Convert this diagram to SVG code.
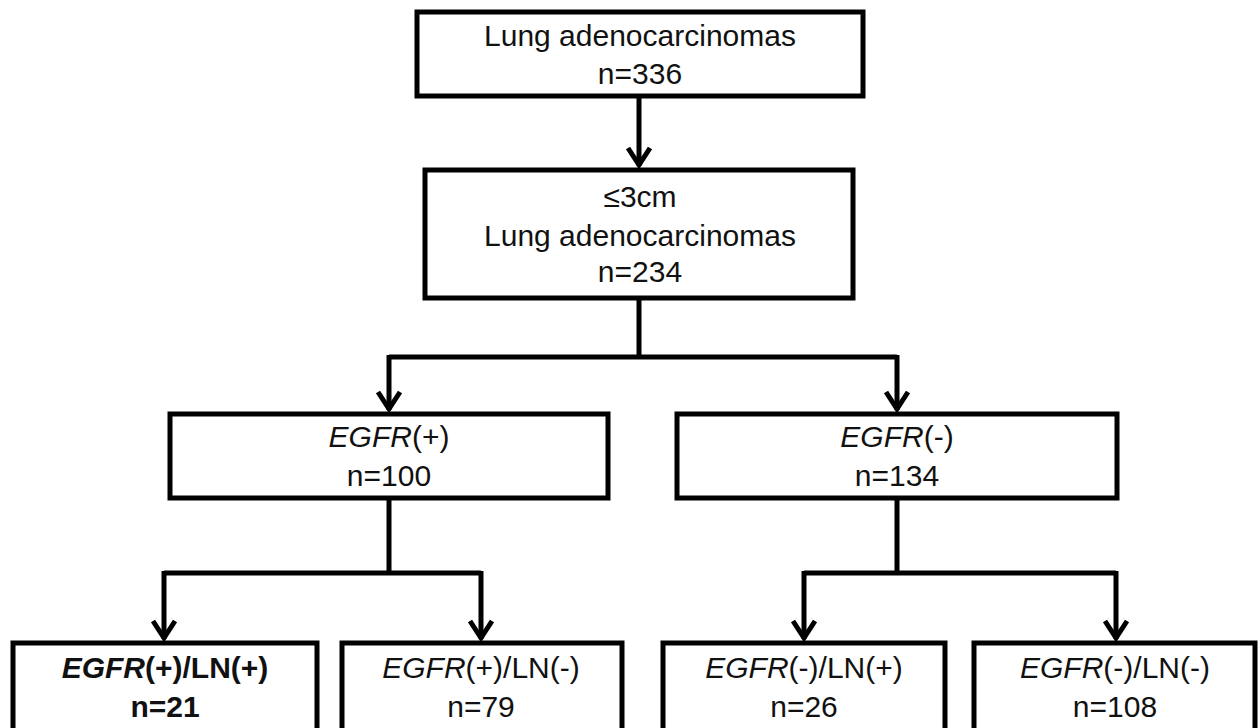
<svg xmlns="http://www.w3.org/2000/svg" width="1260" height="728" viewBox="0 0 1260 728">
<style>
.box{fill:#fff;stroke:#000;stroke-width:5}
.t{font-family:"Liberation Sans",Arial,sans-serif;font-size:30px;fill:#111;text-anchor:middle}
.b{font-weight:bold}
.i{font-style:italic}
.c{fill:none;stroke:#000;stroke-width:5}
</style>
<defs>
<marker id="ah" markerUnits="userSpaceOnUse" markerWidth="40" markerHeight="40" refX="0" refY="0" orient="auto" viewBox="-25 -20 30 40" overflow="visible">
<path d="M-18,-11 L-1,0 L-18,11" fill="none" stroke="#000" stroke-width="5" stroke-linejoin="miter"/>
</marker>
</defs>
<rect width="1260" height="728" fill="#fff"/>
<g id="connectors">
<path class="c" d="M639,98 V166" marker-end="url(#ah)"/>
<path class="c" d="M639,300 V357"/>
<path class="c" d="M389,357 H897"/>
<path class="c" d="M389,355 V410" marker-end="url(#ah)"/>
<path class="c" d="M897,355 V410" marker-end="url(#ah)"/>
<path class="c" d="M389,500 V573"/>
<path class="c" d="M164,573 H481"/>
<path class="c" d="M164,571 V639" marker-end="url(#ah)"/>
<path class="c" d="M481,571 V639" marker-end="url(#ah)"/>
<path class="c" d="M897,500 V573"/>
<path class="c" d="M804,573 H1116"/>
<path class="c" d="M804,571 V639" marker-end="url(#ah)"/>
<path class="c" d="M1116,571 V639" marker-end="url(#ah)"/>
</g>
<g id="n1">
<rect class="box" x="417" y="12" width="446" height="84"/>
<text class="t" x="640" y="46">Lung adenocarcinomas</text>
<text class="t" x="640" y="84">n=336</text>
</g>
<g id="n2">
<rect class="box" x="425" y="170" width="428" height="128"/>
<text class="t" x="640" y="207">≤3cm</text>
<text class="t" x="640" y="246">Lung adenocarcinomas</text>
<text class="t" x="640" y="282">n=234</text>
</g>
<g id="n3">
<rect class="box" x="170" y="414" width="438" height="84"/>
<text class="t" x="389" y="447"><tspan class="i">EGFR</tspan>(+)</text>
<text class="t" x="389" y="486">n=100</text>
</g>
<g id="n4">
<rect class="box" x="677" y="414" width="440" height="84"/>
<text class="t" x="897" y="447"><tspan class="i">EGFR</tspan>(-)</text>
<text class="t" x="897" y="486">n=134</text>
</g>
<g id="n5">
<rect class="box" x="13" y="643" width="304" height="110"/>
<text class="t b" x="165" y="678"><tspan class="i">EGFR</tspan>(+)/LN(+)</text>
<text class="t b" x="165" y="717">n=21</text>
</g>
<g id="n6">
<rect class="box" x="342" y="643" width="280" height="110"/>
<text class="t" x="481" y="678"><tspan class="i">EGFR</tspan>(+)/LN(-)</text>
<text class="t" x="481" y="717">n=79</text>
</g>
<g id="n7">
<rect class="box" x="663" y="643" width="282" height="110"/>
<text class="t" x="804" y="678"><tspan class="i">EGFR</tspan>(-)/LN(+)</text>
<text class="t" x="804" y="717">n=26</text>
</g>
<g id="n8">
<rect class="box" x="974" y="643" width="281" height="110"/>
<text class="t" x="1115" y="678"><tspan class="i">EGFR</tspan>(-)/LN(-)</text>
<text class="t" x="1115" y="717">n=108</text>
</g>
</svg>
